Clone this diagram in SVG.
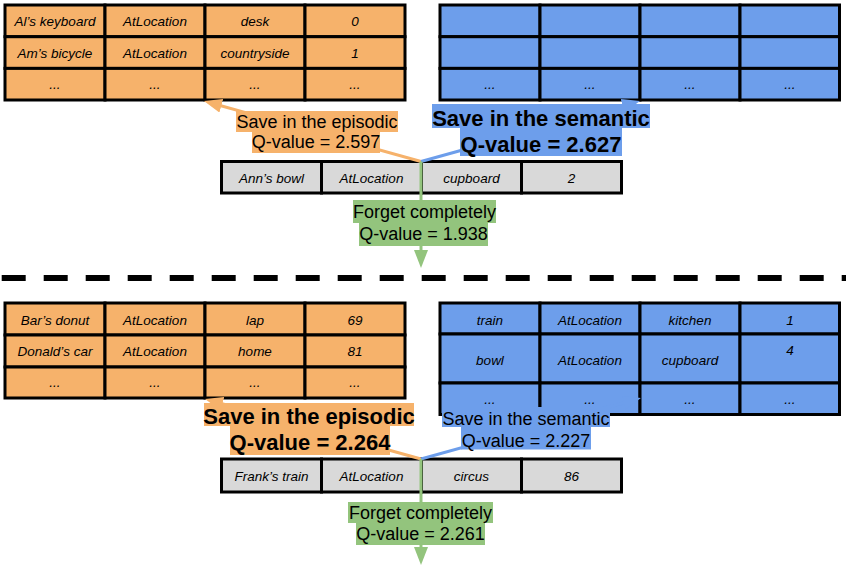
<svg xmlns="http://www.w3.org/2000/svg" width="846" height="567" viewBox="0 0 846 567">
<style>
.o{fill:#F6B26B}
.b{fill:#6D9EEB}
.g{fill:#93C47D}
.gr{fill:#D9D9D9}
.cell{stroke:#000;stroke-width:3}
.ct{font-family:"Liberation Sans",Arial,sans-serif;font-style:italic;font-size:13.5px;fill:#000;text-anchor:middle}
.lt{font-family:"Liberation Sans",Arial,sans-serif;font-size:18px;fill:#000;text-anchor:middle}
.lb{font-family:"Liberation Sans",Arial,sans-serif;font-size:22px;font-weight:bold;fill:#000;text-anchor:middle}
.co{stroke:#F6B26B;stroke-width:3;fill:none}
.cb{stroke:#6D9EEB;stroke-width:3;fill:none}
.cg{stroke:#93C47D;stroke-width:3;fill:none}
</style>
<defs>
<marker id="ao" markerUnits="userSpaceOnUse" markerWidth="18" markerHeight="14" refX="6" refY="7" orient="auto"><path d="M0,0 L18,7 L0,14 z" fill="#F6B26B"/></marker>
<marker id="ab" markerUnits="userSpaceOnUse" markerWidth="18" markerHeight="14" refX="6" refY="7" orient="auto"><path d="M0,0 L18,7 L0,14 z" fill="#6D9EEB"/></marker>
<marker id="ag" markerUnits="userSpaceOnUse" markerWidth="18" markerHeight="14" refX="6" refY="7" orient="auto"><path d="M0,0 L18,7 L0,14 z" fill="#93C47D"/></marker>
</defs>
<rect width="846" height="567" fill="#fff"/>

<!-- top episodic table -->
<g id="episodic-top">
<g class="o cell">
<rect x="5" y="5" width="100" height="31.7"/><rect x="105" y="5" width="100" height="31.7"/><rect x="205" y="5" width="100" height="31.7"/><rect x="305" y="5" width="100" height="31.7"/>
<rect x="5" y="36.7" width="100" height="31.7"/><rect x="105" y="36.7" width="100" height="31.7"/><rect x="205" y="36.7" width="100" height="31.7"/><rect x="305" y="36.7" width="100" height="31.7"/>
<rect x="5" y="68.4" width="100" height="31.6"/><rect x="105" y="68.4" width="100" height="31.6"/><rect x="205" y="68.4" width="100" height="31.6"/><rect x="305" y="68.4" width="100" height="31.6"/>
</g>
<text class="ct" x="55" y="26">Al’s keyboard</text><text class="ct" x="155" y="26">AtLocation</text><text class="ct" x="255" y="26">desk</text><text class="ct" x="355" y="26">0</text>
<text class="ct" x="55" y="58">Am’s bicycle</text><text class="ct" x="155" y="58">AtLocation</text><text class="ct" x="255" y="58">countryside</text><text class="ct" x="355" y="58">1</text>
<text class="ct" x="55" y="89">...</text><text class="ct" x="155" y="89">...</text><text class="ct" x="255" y="89">...</text><text class="ct" x="355" y="89">...</text>
</g>

<!-- top semantic table -->
<g id="semantic-top">
<g class="b cell">
<rect x="440" y="5" width="100" height="31.7"/><rect x="540" y="5" width="100" height="31.7"/><rect x="640" y="5" width="100" height="31.7"/><rect x="740" y="5" width="99.5" height="31.7"/>
<rect x="440" y="36.7" width="100" height="31.7"/><rect x="540" y="36.7" width="100" height="31.7"/><rect x="640" y="36.7" width="100" height="31.7"/><rect x="740" y="36.7" width="99.5" height="31.7"/>
<rect x="440" y="68.4" width="100" height="31.6"/><rect x="540" y="68.4" width="100" height="31.6"/><rect x="640" y="68.4" width="100" height="31.6"/><rect x="740" y="68.4" width="99.5" height="31.6"/>
</g>
<text class="ct" x="490" y="89">...</text><text class="ct" x="590" y="89">...</text><text class="ct" x="690" y="89">...</text><text class="ct" x="790" y="89">...</text>
</g>

<!-- top incoming memory -->
<g id="memory-top">
<g class="gr cell">
<rect x="221.5" y="161.5" width="100" height="31.5"/><rect x="321.5" y="161.5" width="100" height="31.5"/><rect x="421.5" y="161.5" width="100" height="31.5"/><rect x="521.5" y="161.5" width="100" height="31.5"/>
</g>
<text class="ct" x="271.5" y="182.5">Ann’s bowl</text><text class="ct" x="371.5" y="182.5">AtLocation</text><text class="ct" x="471.5" y="182.5">cupboard</text><text class="ct" x="571.5" y="182.5">2</text>
</g>

<!-- bottom episodic table -->
<g id="episodic-bottom">
<g class="o cell">
<rect x="5" y="303" width="100" height="32"/><rect x="105" y="303" width="100" height="32"/><rect x="205" y="303" width="100" height="32"/><rect x="305" y="303" width="100" height="32"/>
<rect x="5" y="335" width="100" height="32"/><rect x="105" y="335" width="100" height="32"/><rect x="205" y="335" width="100" height="32"/><rect x="305" y="335" width="100" height="32"/>
<rect x="5" y="367" width="100" height="31"/><rect x="105" y="367" width="100" height="31"/><rect x="205" y="367" width="100" height="31"/><rect x="305" y="367" width="100" height="31"/>
</g>
<text class="ct" x="55" y="325">Bar’s donut</text><text class="ct" x="155" y="325">AtLocation</text><text class="ct" x="255" y="325">lap</text><text class="ct" x="355" y="325">69</text>
<text class="ct" x="55" y="356">Donald’s car</text><text class="ct" x="155" y="356">AtLocation</text><text class="ct" x="255" y="356">home</text><text class="ct" x="355" y="356">81</text>
<text class="ct" x="55" y="387">...</text><text class="ct" x="155" y="387">...</text><text class="ct" x="255" y="387">...</text><text class="ct" x="355" y="387">...</text>
</g>

<!-- bottom semantic table -->
<g id="semantic-bottom">
<g class="b cell">
<rect x="440" y="303" width="100" height="31"/><rect x="540" y="303" width="100" height="31"/><rect x="640" y="303" width="100" height="31"/><rect x="740" y="303" width="99.5" height="31"/>
<rect x="440" y="334" width="100" height="49"/><rect x="540" y="334" width="100" height="49"/><rect x="640" y="334" width="100" height="49"/><rect x="740" y="334" width="99.5" height="49"/>
<rect x="440" y="383" width="100" height="31.5"/><rect x="540" y="383" width="100" height="31.5"/><rect x="640" y="383" width="100" height="31.5"/><rect x="740" y="383" width="99.5" height="31.5"/>
</g>
<text class="ct" x="490" y="325">train</text><text class="ct" x="590" y="325">AtLocation</text><text class="ct" x="690" y="325">kitchen</text><text class="ct" x="790" y="325">1</text>
<text class="ct" x="490" y="365">bowl</text><text class="ct" x="590" y="365">AtLocation</text><text class="ct" x="690" y="365">cupboard</text><text class="ct" x="790" y="355">4</text>
<text class="ct" x="490" y="404">...</text><text class="ct" x="590" y="404">...</text><text class="ct" x="690" y="404">...</text><text class="ct" x="790" y="404">...</text>
</g>

<!-- bottom incoming memory -->
<g id="memory-bottom">
<g class="gr cell">
<rect x="221.5" y="459" width="100" height="33"/><rect x="321.5" y="459" width="100" height="33"/><rect x="421.5" y="459" width="100" height="33"/><rect x="521.5" y="459" width="100" height="33"/>
</g>
<text class="ct" x="271.5" y="480.5">Frank’s train</text><text class="ct" x="371.5" y="480.5">AtLocation</text><text class="ct" x="471.5" y="480.5">circus</text><text class="ct" x="571.5" y="480.5">86</text>
</g>

<!-- separator -->
<line x1="1.7" y1="278" x2="846" y2="278" stroke="#000" stroke-width="6" stroke-dasharray="24 18"/>

<!-- connectors -->
<g id="connectors">
<line class="co" x1="421" y1="161.5" x2="215.5" y2="104.2" marker-end="url(#ao)"/>
<line class="cb" x1="421" y1="161.5" x2="628.4" y2="104.2" marker-end="url(#ab)"/>
<line class="cg" x1="421" y1="161.5" x2="421" y2="256" marker-end="url(#ag)"/>
<line class="co" x1="421" y1="459" x2="216.6" y2="402.2" marker-end="url(#ao)"/>
<line class="cb" x1="421" y1="459" x2="629.4" y2="401.2" marker-end="url(#ab)"/>
<line class="cg" x1="421" y1="459" x2="421" y2="553" marker-end="url(#ag)"/>
</g>

<!-- labels -->
<g id="label-episodic-top">
<rect class="o" x="236" y="111" width="162" height="21"/><rect class="o" x="252" y="132" width="128" height="21"/>
<text class="lt" x="317" y="127.5">Save in the episodic</text><text class="lt" x="316" y="147.5">Q-value = 2.597</text>
</g>
<g id="label-semantic-top">
<rect class="b" x="432" y="104" width="218" height="24"/><rect class="b" x="460" y="128" width="162" height="28"/>
<text class="lb" x="541" y="126">Save in the semantic</text><text class="lb" x="541" y="151.5">Q-value = 2.627</text>
</g>
<g id="label-forget-top">
<rect class="g" x="353" y="200" width="143" height="23"/><rect class="g" x="359" y="223" width="129" height="23"/>
<text class="lt" x="424.5" y="218">Forget completely</text><text class="lt" x="423.5" y="240">Q-value = 1.938</text>
</g>
<g id="label-episodic-bottom">
<rect class="o" x="204" y="403" width="210" height="23"/><rect class="o" x="230" y="426" width="160" height="29"/>
<text class="lb" x="309" y="423.5">Save in the episodic</text><text class="lb" x="310" y="450">Q-value = 2.264</text>
</g>
<g id="label-semantic-bottom">
<rect class="b" x="442" y="407" width="168" height="20"/><rect class="b" x="461" y="427" width="130" height="22.5"/>
<text class="lt" x="526" y="425">Save in the semantic</text><text class="lt" x="526" y="446.5">Q-value = 2.227</text>
</g>
<g id="label-forget-bottom">
<rect class="g" x="348" y="502" width="145" height="21"/><rect class="g" x="356" y="523" width="129" height="22"/>
<text class="lt" x="420.5" y="518.5">Forget completely</text><text class="lt" x="420.5" y="540">Q-value = 2.261</text>
</g>
</svg>
